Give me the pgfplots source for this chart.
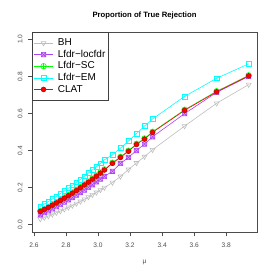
\documentclass[border=0pt]{standalone}
\usepackage{fontspec}
\setmainfont{Liberation Sans}
\usepackage{pgfplots}
\pgfplotsset{compat=1.18}
\definecolor{rgray}{HTML}{BEBEBE}
\definecolor{rpurple}{HTML}{A020F0}
\definecolor{rgreen}{HTML}{00FF00}
\definecolor{rcyan}{HTML}{00FFFF}
\definecolor{rred}{HTML}{FF0000}
\pgfdeclareplotmark{boxx}{%
  \pgfpathrectangle{\pgfpoint{-\pgfplotmarksize}{-\pgfplotmarksize}}{\pgfpoint{2\pgfplotmarksize}{2\pgfplotmarksize}}%
  \pgfpathmoveto{\pgfpoint{-\pgfplotmarksize}{-\pgfplotmarksize}}%
  \pgfpathlineto{\pgfpoint{\pgfplotmarksize}{\pgfplotmarksize}}%
  \pgfpathmoveto{\pgfpoint{-\pgfplotmarksize}{\pgfplotmarksize}}%
  \pgfpathlineto{\pgfpoint{\pgfplotmarksize}{-\pgfplotmarksize}}%
  \pgfusepathqfillstroke}
\pgfplotstableread{
mu BH locfdr SC EM CLAT
2.640 0.030 0.053 0.074 0.098 0.071
2.665 0.038 0.064 0.085 0.111 0.082
2.690 0.046 0.074 0.096 0.124 0.093
2.715 0.055 0.085 0.108 0.138 0.105
2.740 0.064 0.097 0.120 0.152 0.117
2.765 0.073 0.109 0.133 0.167 0.130
2.790 0.083 0.121 0.146 0.181 0.143
2.815 0.093 0.133 0.159 0.197 0.156
2.840 0.103 0.146 0.173 0.212 0.170
2.865 0.114 0.159 0.187 0.228 0.184
2.890 0.125 0.173 0.202 0.244 0.199
2.915 0.137 0.186 0.217 0.261 0.214
2.940 0.149 0.201 0.232 0.278 0.229
2.965 0.161 0.215 0.248 0.296 0.245
2.990 0.174 0.230 0.264 0.313 0.261
3.015 0.187 0.245 0.281 0.331 0.278
3.040 0.200 0.260 0.298 0.350 0.295
3.090 0.227 0.288 0.334 0.376 0.331
3.140 0.260 0.330 0.366 0.413 0.363
3.190 0.298 0.363 0.399 0.451 0.396
3.240 0.333 0.400 0.436 0.491 0.433
3.290 0.367 0.435 0.465 0.532 0.462
3.340 0.404 0.474 0.501 0.570 0.498
3.540 0.532 0.599 0.620 0.692 0.617
3.740 0.655 0.714 0.720 0.790 0.717
3.940 0.756 0.800 0.806 0.868 0.803
}\datatable
\begin{document}
\begin{tikzpicture}
\useasboundingbox (0,0) rectangle (273pt,273pt);
\begin{axis}[
  at={(32pt,41pt)}, anchor=south west,
  width=225pt, height=200pt, scale only axis,
  xmin=2.588, xmax=3.992, ymin=-0.04, ymax=1.04,
  axis line style={black!70, line width=0.5pt},
  tick align=outside, major tick length=4pt,
  tick style={black!70, line width=0.5pt},
  xtick={2.6,2.8,3.0,3.2,3.4,3.6,3.8},
  ytick={0,0.2,0.4,0.6,0.8,1.0},
  xtick pos=bottom, ytick pos=left,
  /pgf/number format/.cd, fixed, fixed zerofill, precision=1, assume math mode=true,
  /pgfplots/.cd,
  ticklabel style={font=\fontsize{6.6}{7}\selectfont, text=black!70},
  xticklabel style={yshift=-3pt},
  yticklabel style={rotate=90, anchor=south, yshift=2pt},
  title={Proportion of True Rejection},
  title style={font=\bfseries\fontsize{7.7}{9}\selectfont, at={(0.5,1)}, anchor=center, yshift=10pt},
  xlabel={μ},
  xlabel style={font=\fontsize{6.6}{7}\selectfont, text=black!70, at={(0.5,0)}, anchor=center, yshift=-30pt},
  legend cell align=left,
  legend style={at={(0,1)}, anchor=north west, draw=black!75, line width=0.5pt,
    font=\fontsize{10}{11}\selectfont, row sep=0pt, column sep=3pt,
    inner xsep=1.5pt, inner ysep=5pt,
    nodes={inner xsep=1.5pt, inner ysep=1.1pt, text height=7.4pt, text depth=2pt}},
  legend image code/.code={\draw[mark repeat=2,mark phase=2] plot coordinates {(0pt,0pt)(9.5pt,0pt)(19pt,0pt)};},
  every axis plot/.append style={line width=0.6pt},
]
\addplot[color=rgray, mark=triangle, mark size=2.8pt, mark options={rotate=180, solid}] table[x=mu,y=BH]{\datatable};
\addlegendentry{BH}
\addplot[color=rpurple!85, mark=boxx, mark size=2.2pt, mark options={fill=rpurple!35, solid}] table[x=mu,y=locfdr]{\datatable};
\addlegendentry{Lfdr−locfdr}
\addplot[color=rgreen, mark=oplus, mark size=2.8pt, mark options={solid}] table[x=mu,y=SC]{\datatable};
\addlegendentry{Lfdr−SC}
\addplot[color=rcyan, mark=square, mark size=2.4pt, mark options={solid}] table[x=mu,y=EM]{\datatable};
\addlegendentry{Lfdr−EM}
\addplot[color=rred, mark=*, mark size=2.4pt, mark options={fill=rred, draw=rred!80!black, solid}] table[x=mu,y=CLAT]{\datatable};
\addlegendentry{CLAT}
\end{axis}
\end{tikzpicture}
\end{document}
